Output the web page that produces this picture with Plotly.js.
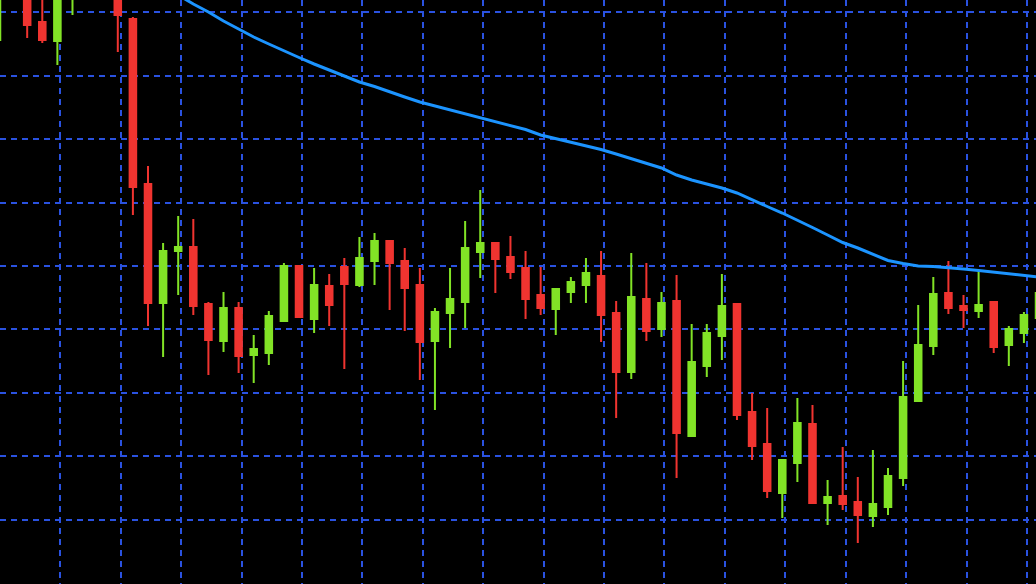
<!DOCTYPE html>
<html>
<head>
<meta charset="utf-8">
<script src="https://cdn.plot.ly/plotly-3.0.1.min.js"></script>
<style>
  html, body { margin: 0; padding: 0; background: #000; }
  #chart { width: 1036px; height: 584px; }
</style>
</head>
<body>
<div id="chart"></div>
<script>
// Candle index (one per bar)
const candleIndex = Array.from({length: 70}, (_, i) => i);

const openPrices = [
  560,660,630,578,559,605,632,655,625,581,
  416,297,349,353,296,259,292,245,247,279,
  334,281,314,333,315,339,359,339,315,259,
  287,298,348,357,343,332,305,291,308,315,
  324,287,228,301,271,299,164,234,264,296,
  188,156,107,137,176,97,104,98,84,93,
  122,199,254,307,294,289,298,255,267,282
];
const highPrices = [
  650,670,640,608,630,640,665,668,640,583,
  434,357,384,381,298,308,298,265,289,337,
  335,332,326,342,363,367,360,352,332,292,
  332,379,410,358,364,349,333,312,323,342,
  349,299,347,337,308,325,276,276,326,297,
  207,192,141,202,195,120,153,123,150,132,
  239,295,323,339,305,330,298,274,288,320
];
const lowPrices = [
  558,615,562,557,535,585,620,622,548,385,
  274,243,305,285,225,248,227,217,235,279,
  282,267,274,231,313,315,290,269,220,190,
  252,272,322,307,321,281,285,265,297,297,
  258,182,221,259,263,122,163,223,240,180,
  140,102,82,118,96,75,90,57,73,85,
  114,198,245,286,272,282,247,234,257,270
];
const closePrices = [
  640,630,575,560,620,630,655,640,585,413,
  297,349,353,294,260,292,244,251,284,334,
  283,315,295,316,342,359,337,312,258,288,
  301,352,357,341,328,301,292,311,318,327,
  285,228,303,269,297,167,238,267,294,185,
  154,109,140,177,97,103,96,85,96,124,
  203,255,306,292,290,295,253,271,285,307
];

// Moving average line
const maIndex = Array.from({length: 60}, (_, i) => i + 10);
const maValues = [
  622,613,605,596,588,579,571,563,556,549,
  542.5,536,530,524,518,513.5,508,503,498,494,
  490,486,482,478,474.5,470.5,465,461.5,458,454,
  450.5,446,441.5,437,432,425,420,416,412,407,
  400,393.5,387,380,372.5,365,357.5,352,345.5,339.5,
  336.5,334,333.5,332.5,331,329.5,328,326.5,324.5,323
];

const RED = '#f03430';
const GREEN = '#82e326';
const GRID = '#2a52e0';

const traces = [
  {
    type: 'candlestick',
    x: candleIndex,
    open: openPrices,
    high: highPrices,
    low: lowPrices,
    close: closePrices,
    increasing: {line: {color: GREEN, width: 2}, fillcolor: GREEN},
    decreasing: {line: {color: RED, width: 2}, fillcolor: RED},
    whiskerwidth: 0,
    hoverinfo: 'skip',
    showlegend: false
  },
  {
    type: 'scatter',
    mode: 'lines',
    x: maIndex,
    y: maValues,
    line: {color: '#1c94ff', width: 3},
    hoverinfo: 'skip',
    showlegend: false
  }
];

const layout = {
  width: 1036,
  height: 584,
  margin: {l: 0, r: 0, t: 0, b: 0, pad: 0},
  paper_bgcolor: '#000000',
  plot_bgcolor: '#000000',
  showlegend: false,
  boxgap: 0.38,
  xaxis: {
    type: 'linear',
    range: [0.2, 68.8],
    rangeslider: {visible: false},
    showgrid: true,
    gridcolor: GRID,
    gridwidth: 2,
    griddash: '6px,5px',
    tick0: 0.2,
    dtick: 4,
    showticklabels: false,
    ticks: '',
    zeroline: false,
    showline: false,
    fixedrange: true
  },
  yaxis: {
    range: [16, 600],
    showgrid: true,
    gridcolor: GRID,
    gridwidth: 2,
    griddash: '6px,5px',
    tick0: 17,
    dtick: 63.4,
    showticklabels: false,
    ticks: '',
    zeroline: false,
    showline: false,
    fixedrange: true
  }
};

Plotly.newPlot('chart', traces, layout, {displayModeBar: false, staticPlot: true});
</script>
</body>
</html>
